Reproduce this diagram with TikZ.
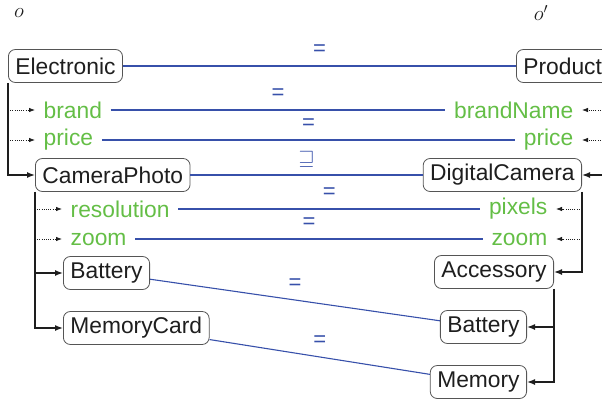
\documentclass[tikz,border=0pt]{standalone}
\usepackage{fontspec}
\usepackage{amssymb}
\setmainfont{Liberation Sans}
\usetikzlibrary{arrows.meta}
\definecolor{mapblue}{RGB}{55,80,170}
\definecolor{attrgreen}{RGB}{100,190,70}
\definecolor{boxgray}{RGB}{85,85,85}
\definecolor{ink}{RGB}{30,30,30}
\begin{document}
\begin{tikzpicture}[x=1pt,y=-1pt,
  box/.style={draw=boxgray, line width=0.8pt, rounded corners=7pt, inner xsep=7pt, inner ysep=0pt, minimum height=33pt, text=ink, font=\fontsize{22.8}{26}\selectfont},
  attr/.style={text=attrgreen, inner xsep=8.5pt, inner ysep=2pt, font=\fontsize{22.8}{26}\selectfont},
  map/.style={draw=mapblue, line width=1.1pt},
  lbl/.style={text=mapblue, font=\fontsize{22}{24}\selectfont, yshift=16pt, inner sep=0pt},
  tree/.style={draw=ink, line width=1.4pt, -{Latex[length=8pt,width=6pt]}},
  dotarr/.style={draw=ink, line width=0.8pt, dash pattern=on 1pt off 1.2pt, -{Latex[length=6pt,width=4.5pt]}},
  onto/.style={font=\fontsize{20}{22}\selectfont, text=ink, inner sep=1pt}]
\useasboundingbox (0,0) rectangle (602,404);

\node[onto] (o1) at (19,13) {$o$};
\node[onto] (o2) at (541,13) {$o'$};

% left ontology
\node[box, anchor=west] (el) at (8,66) {Electronic};
\node[attr, anchor=west] (brand) at (35,110) {brand};
\node[attr, anchor=west] (price1) at (35,140) {price};
\node[box, anchor=west] (cp) at (35,175) {CameraPhoto};
\node[attr, anchor=west] (res) at (62,209) {resolution};
\node[attr, anchor=west] (zoom1) at (62,239) {zoom};
\node[box, anchor=west] (bat1) at (63,273) {Battery};
\node[box, anchor=west] (mc) at (63,328) {MemoryCard};

% right ontology
\node[box, anchor=west] (pr) at (516,66) {Product};
\node[attr, anchor=east] (bn) at (582,110) {brandName};
\node[attr, anchor=east] (price2) at (582,140) {price};
\node[box, anchor=east] (dc) at (582,175) {DigitalCamera};
\node[attr, anchor=east] (px) at (556,209) {pixels};
\node[attr, anchor=east] (zoom2) at (556,239) {zoom};
\node[box, anchor=east] (acc) at (554,272) {Accessory};
\node[box, anchor=east] (bat2) at (527,327) {Battery};
\node[box, anchor=east] (mem) at (527,382) {Memory};

% mappings
\draw[map] (el) -- node[midway, lbl] {=} (pr);
\draw[map] (brand) -- node[midway, lbl] {=} (bn);
\draw[map] (price1) -- node[midway, lbl] {=} (price2);
\draw[map] (cp) -- node[midway, lbl] {$\sqsupseteq$} (dc);
\draw[map] (res) -- node[midway, lbl] {=} (px);
\draw[map] (zoom1) -- node[midway, lbl] {=} (zoom2);
\draw[map] (bat1) -- node[midway, lbl] {=} (bat2);
\draw[map] (mc) -- node[midway, lbl] {=} (mem);

% left hierarchy
\draw[tree] (el.south west) |- (cp.west);
\draw[dotarr] (el.south west |- brand) -- (brand.west);
\draw[dotarr] (el.south west |- price1) -- (price1.west);
\draw[tree] (cp.south west) |- (bat1.west);
\draw[tree] (cp.south west) |- (mc.west);
\draw[dotarr] (cp.south west |- res) -- (res.west);
\draw[dotarr] (cp.south west |- zoom1) -- (zoom1.west);

% right hierarchy
\coordinate (rtop) at (603,82);
\draw[tree] (rtop) |- (dc.east);
\draw[dotarr] (rtop |- bn) -- (bn.east);
\draw[dotarr] (rtop |- price2) -- (price2.east);
\draw[tree] (dc.south east) |- (acc.east);
\draw[dotarr] (dc.south east |- px) -- (px.east);
\draw[dotarr] (dc.south east |- zoom2) -- (zoom2.east);
\draw[tree] (acc.south east) |- (bat2.east);
\draw[tree] (acc.south east) |- (mem.east);
\end{tikzpicture}
\end{document}
